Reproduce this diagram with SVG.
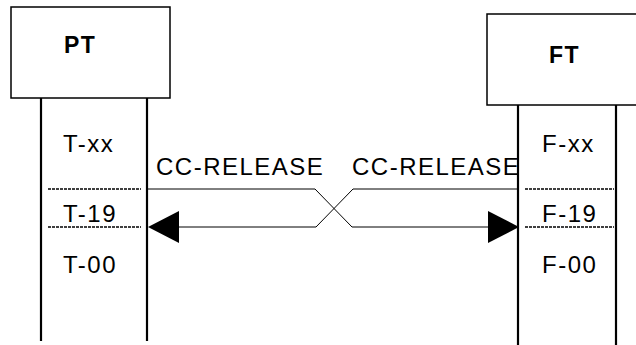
<svg xmlns="http://www.w3.org/2000/svg" width="636" height="345" viewBox="0 0 636 345">
<defs>
<style>
.box{fill:#fff;stroke:#000;stroke-width:1.5}
.life{stroke:#000;stroke-width:2.2;fill:none}
.dash{stroke:#000;stroke-width:1.5;stroke-dasharray:3,1;fill:none}
.conn{stroke:#000;stroke-width:1;fill:none}
.head{fill:#000}
.t{font-family:"Liberation Sans",Arial,sans-serif;font-size:24px;letter-spacing:1.5px;fill:#000}
.b{font-family:"Liberation Sans",Arial,sans-serif;font-size:23px;font-weight:bold;letter-spacing:1.5px;fill:#000}
</style>
</defs>
<rect width="636" height="345" fill="#fff"/>
<g id="PT">
<rect class="box" x="11" y="7" width="159" height="91"/>
<text class="b" x="64" y="53">PT</text>
<line class="life" x1="41" y1="98" x2="41" y2="341"/>
<line class="life" x1="147" y1="98" x2="147" y2="341"/>
<line class="dash" x1="48" y1="189" x2="141" y2="189"/>
<line class="dash" x1="48" y1="227" x2="141" y2="227"/>
<text class="t" x="63" y="152">T-xx</text>
<text class="t" x="63" y="222">T-19</text>
<text class="t" x="63" y="273">T-00</text>
</g>
<g id="FT">
<rect class="box" x="487" y="14" width="160" height="91"/>
<text class="b" x="549" y="63">FT</text>
<line class="life" x1="518" y1="105" x2="518" y2="345"/>
<line class="life" x1="616" y1="105" x2="616" y2="345"/>
<line class="dash" x1="525" y1="189" x2="614" y2="189"/>
<line class="dash" x1="525" y1="227" x2="614" y2="227"/>
<text class="t" x="542" y="152">F-xx</text>
<text class="t" x="542" y="222">F-19</text>
<text class="t" x="542" y="273">F-00</text>
</g>
<g id="connectors">
<polyline class="conn" points="147,189 315,189 352,227 490,227"/>
<polygon class="head" points="519,227 488,211 488,243"/>
<polyline class="conn" points="518,189 353,189 316,227 176,227"/>
<polygon class="head" points="148,227 179,211 179,243"/>
<text class="t" x="156" y="175">CC-RELEASE</text>
<text class="t" x="352" y="175">CC-RELEASE</text>
</g>
</svg>
